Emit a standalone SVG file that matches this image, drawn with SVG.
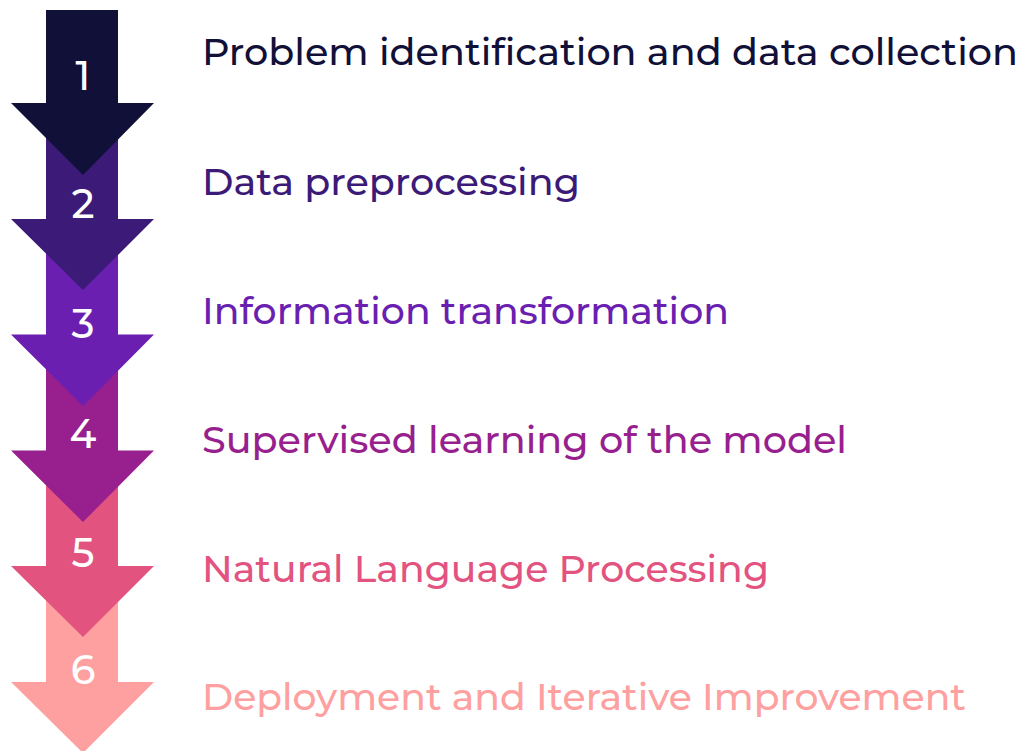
<svg xmlns="http://www.w3.org/2000/svg" width="1025" height="751" viewBox="0 0 1025 751">
<style>
.num{font-family:"Montserrat","Open Sans","Liberation Sans",sans-serif;font-size:40px;font-weight:500;fill:#ffffff;text-anchor:middle}
.lbl{font-family:"Montserrat","Open Sans","Liberation Sans",sans-serif;font-size:37px;font-weight:500}
</style>
<rect width="1025" height="751" fill="#ffffff"/>
<g id="step6"><path d="M46,600 H118 V682 H154 L83,753 L11,682 H46 Z" fill="#fea0a0"/><text class="num" x="83" y="684">6</text><text class="lbl" x="202" y="710" fill="#fea0a0" textLength="764" lengthAdjust="spacingAndGlyphs">Deployment and Iterative Improvement</text></g>
<g id="step5"><path d="M46,480 H118 V566 H154 L83,637 L11,566 H46 Z" fill="#e2537f"/><text class="num" x="83" y="567">5</text><text class="lbl" x="202" y="582" fill="#e2537f" textLength="567" lengthAdjust="spacingAndGlyphs">Natural Language Processing</text></g>
<g id="step4"><path d="M46,365 H118 V450.5 H154 L83,522 L11,450.5 H46 Z" fill="#981f8e"/><text class="num" x="83" y="448">4</text><text class="lbl" x="202" y="453" fill="#981f8e" textLength="645" lengthAdjust="spacingAndGlyphs">Supervised learning of the model</text></g>
<g id="step3"><path d="M46,250 H118 V334.5 H154 L83,406 L11,334.5 H46 Z" fill="#6a1fb0"/><text class="num" x="83" y="338">3</text><text class="lbl" x="202" y="324" fill="#6a1fb0" textLength="527" lengthAdjust="spacingAndGlyphs">Information transformation</text></g>
<g id="step2"><path d="M46,130 H118 V219 H154 L83,290 L11,219 H46 Z" fill="#3b1a78"/><text class="num" x="83" y="218">2</text><text class="lbl" x="202" y="195" fill="#3b1a78" textLength="378" lengthAdjust="spacingAndGlyphs">Data preprocessing</text></g>
<g id="step1"><path d="M46,10 H118 V103 H154 L83,175 L11,103 H46 Z" fill="#111038"/><text class="num" x="83" y="90">1</text><text class="lbl" x="202" y="65" fill="#111038" textLength="816" lengthAdjust="spacingAndGlyphs">Problem identification and data collection</text></g>
<g id="connectors"></g>
</svg>
